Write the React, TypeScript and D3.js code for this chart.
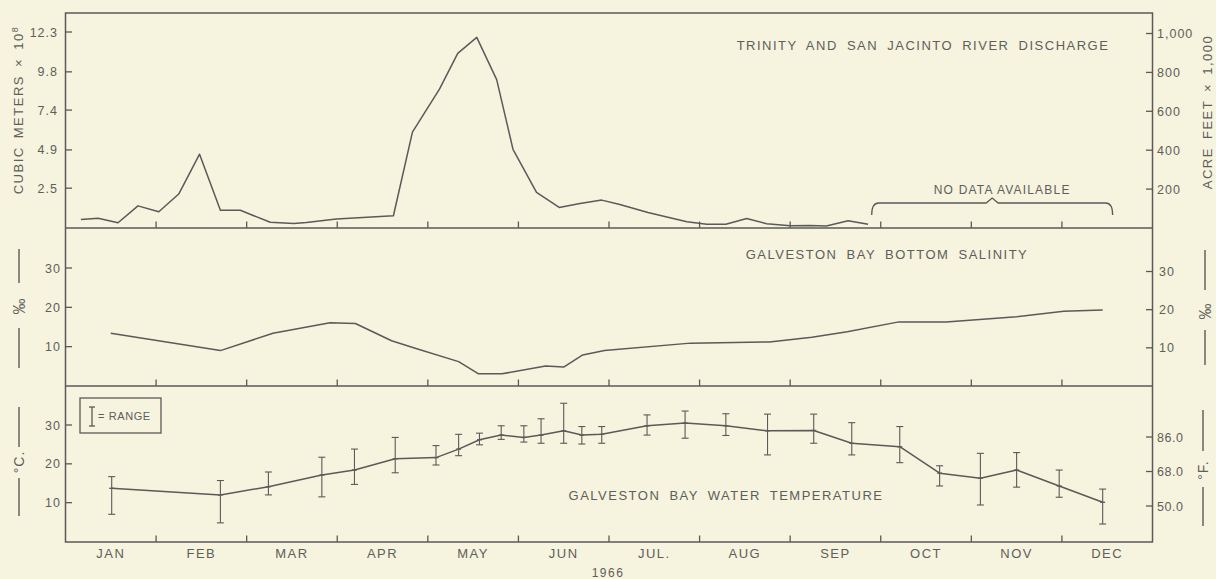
import React from 'react';
import * as d3 from 'd3';

// ---------- DATA ----------
const months = ["JAN", "FEB", "MAR", "APR", "MAY", "JUN", "JUL.", "AUG", "SEP", "OCT", "NOV", "DEC"];
const yearLabel = "1966";

// Discharge (position in months since Jan 1, value in left-axis units)
const dischargeMonth = [0.17, 0.36, 0.58, 0.8, 1.03, 1.25, 1.48, 1.71, 1.93, 2.26, 2.52, 2.66, 2.99, 3.62, 3.83, 4.13, 4.33, 4.54, 4.76, 4.94, 5.2, 5.45, 5.68, 5.92, 6.12, 6.43, 6.86, 7.08, 7.29, 7.52, 7.74, 8.0, 8.22, 8.4, 8.64, 8.86];
const dischargeValue = [0.54, 0.61, 0.33, 1.39, 1.02, 2.13, 4.63, 1.11, 1.11, 0.36, 0.29, 0.34, 0.56, 0.77, 6.02, 8.73, 10.96, 11.96, 9.31, 4.94, 2.23, 1.29, 1.54, 1.75, 1.48, 0.97, 0.39, 0.23, 0.24, 0.59, 0.27, 0.14, 0.16, 0.13, 0.46, 0.23];
const noDataSpan = [8.9, 11.56];
const dischargeLeftTicks = [2.5, 4.9, 7.4, 9.8, 12.3];
const dischargeLeftLabels = ["2.5", "4.9", "7.4", "9.8", "12.3"];
const dischargeRightTicks = [200, 400, 600, 800, 1000];
const dischargeRightLabels = ["200", "400", "600", "800", "1,000"];

// Salinity
const salinityMonth = [0.5, 1.71, 2.29, 2.92, 3.2, 3.6, 3.86, 4.34, 4.56, 4.82, 5.3, 5.5, 5.71, 5.95, 6.9, 7.77, 8.24, 8.63, 9.2, 9.72, 10.5, 11.02, 11.45];
const salinityValue = [13.4, 9.0, 13.4, 16.1, 15.9, 11.5, 9.6, 6.2, 3.1, 3.1, 5.1, 4.8, 7.9, 9.0, 10.9, 11.2, 12.4, 13.8, 16.3, 16.3, 17.6, 19.0, 19.3];
const salinityTicks = [10, 20, 30];

// Temperature
const tempMonth = [0.51, 1.71, 2.24, 2.83, 3.19, 3.64, 4.09, 4.34, 4.57, 4.81, 5.06, 5.25, 5.5, 5.7, 5.92, 6.42, 6.84, 7.29, 7.75, 8.26, 8.68, 9.21, 9.65, 10.1, 10.5, 10.97, 11.45];
const tempMean = [13.7, 12.0, 14.1, 17.1, 18.4, 21.3, 21.6, 23.8, 26.2, 27.4, 26.8, 27.4, 28.5, 27.4, 27.6, 29.8, 30.5, 29.8, 28.5, 28.6, 25.3, 24.4, 17.6, 16.3, 18.4, 14.3, 10.1];
const tempMax = [16.7, 15.7, 17.9, 21.7, 23.8, 26.8, 24.7, 27.6, 27.9, 29.8, 29.8, 31.6, 35.6, 29.6, 29.6, 32.6, 33.6, 32.9, 32.8, 32.8, 30.6, 29.6, 19.5, 22.7, 22.9, 18.4, 13.5];
const tempMin = [7.0, 4.8, 12.0, 11.5, 14.7, 17.7, 19.7, 22.1, 24.9, 26.3, 25.6, 25.3, 25.3, 25.1, 25.3, 27.4, 26.6, 27.3, 22.3, 25.3, 22.3, 20.3, 14.3, 9.4, 14.0, 11.4, 4.5];
const tempLeftTicks = [10, 20, 30];
const tempRightTicks = [50, 68, 86];
const tempRightLabels = ["50.0", "68.0", "86.0"];

// ---------- LAYOUT ----------
const W = 1216, H = 579;
const L = 65.5, R = 1152.5;
const TOP = 13, D1 = 228, D2 = 386, BOT = 542;
const INK = "#5a5a58";
const TXT = "#5e5e5a";
const BG = "#f6f3df";
const FONT = "'Liberation Sans', Arial, sans-serif";

const x = d3.scaleLinear().domain([0, 12]).range([L, R]);
const yDis = d3.scaleLinear().domain([0, 12.3]).range([D1, 32]);
const yAF = d3.scaleLinear().domain([0, 1000]).range([D1, 33.5]);
const ySal = d3.scaleLinear().domain([0, 30]).range([D2, 268]);
const ySalR = d3.scaleLinear().domain([0, 30]).range([D2, 271.5]);
const yT = d3.scaleLinear().domain([0, 30]).range([541.5, 425]);
const yF = d3.scaleLinear().domain([50, 86]).range([506, 437]);

const tickLen = 6.5;

function VLabel({ cx, cy, text, top, bottom, size }: { cx: number; cy: number; text: string; top: [number, number]; bottom: [number, number]; size: number }) {
  return (
    <g>
      <line x1={cx} x2={cx} y1={top[0]} y2={top[1]} stroke={INK} strokeWidth={1.4} />
      <line x1={cx} x2={cx} y1={bottom[0]} y2={bottom[1]} stroke={INK} strokeWidth={1.4} />
      <text transform={`translate(${cx + size * 0.38},${cy}) rotate(-90)`} textAnchor="middle" fontSize={size} fill={TXT} letterSpacing={1}>{text}</text>
    </g>
  );
}

export default function App() {
  const boundaryTicks = d3.range(1, 12);
  const disLine = d3.line<number>().x((_, i) => x(dischargeMonth[i])).y((d) => yDis(d));
  const salLine = d3.line<number>().x((_, i) => x(salinityMonth[i])).y((d) => ySal(d));
  const tLine = d3.line<number>().x((_, i) => x(tempMonth[i])).y((d) => yT(d));

  const bx0 = x(noDataSpan[0]), bx1 = x(noDataSpan[1]);
  const bmid = (bx0 + bx1) / 2;
  const byTop = 203, byBot = 215;
  const brace = `M${bx0},${byBot} Q${bx0},${byTop} ${bx0 + 7},${byTop} L${bmid - 6},${byTop} L${bmid},${byTop - 5} L${bmid + 6},${byTop} L${bx1 - 7},${byTop} Q${bx1},${byTop} ${bx1},${byBot}`;

  return (
    <svg width={W} height={H} style={{ position: 'absolute', left: 0, top: 0 }} fontFamily={FONT}>
      <rect x={0} y={0} width={W} height={H} fill={BG} />

      {/* frame */}
      <rect x={L} y={TOP} width={R - L} height={BOT - TOP} fill="none" stroke={INK} strokeWidth={1.5} />
      <line x1={L} x2={R} y1={D1} y2={D1} stroke={INK} strokeWidth={1.5} />
      <line x1={L} x2={R} y1={D2} y2={D2} stroke={INK} strokeWidth={1.5} />

      {/* month boundary ticks on each panel bottom */}
      {[D1, D2, BOT].map((yb) =>
        boundaryTicks.map((m) => (
          <line key={`${yb}-${m}`} x1={x(m)} x2={x(m)} y1={yb} y2={yb - tickLen} stroke={INK} strokeWidth={1.3} />
        ))
      )}

      {/* ---------- TOP PANEL ---------- */}
      {dischargeLeftTicks.map((t, i) => (
        <g key={`dl${i}`}>
          <line x1={L} x2={L + tickLen} y1={yDis(t)} y2={yDis(t)} stroke={INK} strokeWidth={1.3} />
          <text x={58} y={yDis(t) + 4.5} textAnchor="end" fontSize={12.5} fill={TXT} letterSpacing={1}>{dischargeLeftLabels[i]}</text>
        </g>
      ))}
      {dischargeRightTicks.map((t, i) => (
        <g key={`dr${i}`}>
          <line x1={R} x2={R - tickLen} y1={yAF(t)} y2={yAF(t)} stroke={INK} strokeWidth={1.3} />
          <text x={1157} y={yAF(t) + 4.5} textAnchor="start" fontSize={12.5} fill={TXT} letterSpacing={1}>{dischargeRightLabels[i]}</text>
        </g>
      ))}
      <text transform={`translate(23,110) rotate(-90)`} textAnchor="middle" fontSize={13} fill={TXT} letterSpacing={1.5} wordSpacing={3}>
        CUBIC METERS × 10<tspan dy={-5} fontSize={9}>8</tspan>
      </text>
      <text transform={`translate(1212,112) rotate(-90)`} textAnchor="middle" fontSize={13} fill={TXT} letterSpacing={1.5} wordSpacing={3}>
        ACRE FEET × 1,000
      </text>
      <text x={923} y={50} textAnchor="middle" fontSize={13} fill={TXT} letterSpacing={1.5} wordSpacing={4}>TRINITY AND SAN JACINTO RIVER DISCHARGE</text>
      <path d={disLine(dischargeValue) || ''} fill="none" stroke={INK} strokeWidth={1.5} strokeLinejoin="round" />
      <path d={brace} fill="none" stroke={INK} strokeWidth={1.3} />
      <text x={bmid + 10} y={194} textAnchor="middle" fontSize={12} fill={TXT} letterSpacing={1.2}>NO DATA AVAILABLE</text>

      {/* ---------- MIDDLE PANEL ---------- */}
      {salinityTicks.map((t) => (
        <g key={`sl${t}`}>
          <line x1={L} x2={L + tickLen} y1={ySal(t)} y2={ySal(t)} stroke={INK} strokeWidth={1.3} />
          <text x={61} y={ySal(t) + 4.5} textAnchor="end" fontSize={12.5} fill={TXT} letterSpacing={1}>{t}</text>
          <line x1={R} x2={R - tickLen} y1={ySalR(t)} y2={ySalR(t)} stroke={INK} strokeWidth={1.3} />
          <text x={1159} y={ySalR(t) + 4.5} textAnchor="start" fontSize={12.5} fill={TXT} letterSpacing={1}>{t}</text>
        </g>
      ))}
      <VLabel cx={19} cy={306} text="‰" size={16} top={[249, 283]} bottom={[328, 368]} />
      <VLabel cx={1205} cy={311} text="‰" size={16} top={[250, 290]} bottom={[330, 365]} />
      <text x={887} y={259} textAnchor="middle" fontSize={13} fill={TXT} letterSpacing={1.5} wordSpacing={4}>GALVESTON BAY BOTTOM SALINITY</text>
      <path d={salLine(salinityValue) || ''} fill="none" stroke={INK} strokeWidth={1.5} strokeLinejoin="round" />

      {/* ---------- BOTTOM PANEL ---------- */}
      {tempLeftTicks.map((t) => (
        <g key={`tl${t}`}>
          <line x1={L} x2={L + tickLen} y1={yT(t)} y2={yT(t)} stroke={INK} strokeWidth={1.3} />
          <text x={61} y={yT(t) + 4.5} textAnchor="end" fontSize={12.5} fill={TXT} letterSpacing={1}>{t}</text>
        </g>
      ))}
      {tempRightTicks.map((t, i) => (
        <g key={`tr${t}`}>
          <line x1={R} x2={R - tickLen} y1={yF(t)} y2={yF(t)} stroke={INK} strokeWidth={1.3} />
          <text x={1157} y={yF(t) + 4.5} textAnchor="start" fontSize={12.5} fill={TXT} letterSpacing={0.5}>{tempRightLabels[i]}</text>
        </g>
      ))}
      <VLabel cx={19} cy={462} text="°C." size={14} top={[407, 447]} bottom={[478, 516]} />
      <VLabel cx={1203} cy={470} text="°F." size={14} top={[410, 451]} bottom={[487, 526]} />

      {/* legend */}
      <rect x={80} y={398} width={81} height={35} fill="none" stroke={INK} strokeWidth={1.3} />
      <line x1={92} x2={92} y1={407} y2={426} stroke={INK} strokeWidth={1.3} />
      <line x1={89} x2={95} y1={407} y2={407} stroke={INK} strokeWidth={1.3} />
      <line x1={89} x2={95} y1={426} y2={426} stroke={INK} strokeWidth={1.3} />
      <text x={98} y={420} fontSize={11} fill={TXT} letterSpacing={0.6}>= RANGE</text>

      <text x={726} y={500} textAnchor="middle" fontSize={13} fill={TXT} letterSpacing={1.5} wordSpacing={4}>GALVESTON BAY WATER TEMPERATURE</text>

      {tempMonth.map((m, i) => (
        <g key={`eb${i}`}>
          <line x1={x(m)} x2={x(m)} y1={yT(tempMax[i])} y2={yT(tempMin[i])} stroke={INK} strokeWidth={1.1} />
          <line x1={x(m) - 3.5} x2={x(m) + 3.5} y1={yT(tempMax[i])} y2={yT(tempMax[i])} stroke={INK} strokeWidth={1.1} />
          <line x1={x(m) - 3.5} x2={x(m) + 3.5} y1={yT(tempMin[i])} y2={yT(tempMin[i])} stroke={INK} strokeWidth={1.1} />
          <line x1={x(m) - 2.5} x2={x(m) + 2.5} y1={yT(tempMean[i])} y2={yT(tempMean[i])} stroke={INK} strokeWidth={1.3} />
        </g>
      ))}
      <path d={tLine(tempMean) || ''} fill="none" stroke={INK} strokeWidth={1.5} strokeLinejoin="round" />

      {/* month labels */}
      {months.map((mName, i) => (
        <text key={mName} x={x(i + 0.5)} y={558} textAnchor="middle" fontSize={13} fill={TXT} letterSpacing={1.5}>{mName}</text>
      ))}
      <text x={608} y={577} textAnchor="middle" fontSize={12} fill={TXT} letterSpacing={1.5}>{yearLabel}</text>
    </svg>
  );
}
